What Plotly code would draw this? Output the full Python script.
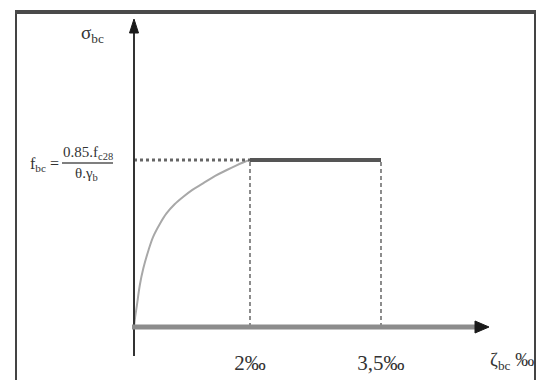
import plotly.graph_objects as go

# ---- data (schematic BAEL parabola-rectangle diagram) ----
curve_strain = [0.0, 0.02, 0.05, 0.10, 0.16, 0.25, 0.33, 0.45, 0.56, 0.70, 0.85,
                1.00, 1.19, 1.40, 1.60, 1.75, 1.88, 2.0]   # ‰
curve_stress = [0.0, 0.06, 0.13, 0.25, 0.35, 0.46, 0.54, 0.62, 0.68, 0.735, 0.78,
                0.82, 0.86, 0.905, 0.94, 0.965, 0.985, 1.0]   # σ/fbc
plateau_strain = [2.0, 3.5]
plateau_stress = [1.0, 1.0]
fbc_level = 1.0
strain_ticks = [2.0, 3.5]
strain_tick_labels = ["2‰", "3,5‰"]

W, H = 544, 380
def px(x):
    return x / W
def py(y):
    return 1 - y / H

FONT = "Liberation Serif"
TXT = "#333333"

fig = go.Figure()

fig.add_trace(go.Scatter(x=curve_strain, y=curve_stress, mode="lines", line_shape="spline",
                         line=dict(color="#a8a8a8", width=2), xaxis="x", yaxis="y",
                         hoverinfo="skip", showlegend=False))
fig.add_trace(go.Scatter(x=[0, strain_ticks[0]], y=[fbc_level, fbc_level], mode="lines",
                         line=dict(color="#666666", width=3, dash="3px,3px"), xaxis="x", yaxis="y",
                         hoverinfo="skip", showlegend=False))
for s in strain_ticks:
    fig.add_trace(go.Scatter(x=[s, s], y=[0, fbc_level], mode="lines",
                             line=dict(color="#666666", width=1.5, dash="4px,3px"), xaxis="x2", yaxis="y",
                             hoverinfo="skip", showlegend=False))
fig.add_trace(go.Scatter(x=plateau_strain, y=plateau_stress, mode="lines",
                         line=dict(color="#555555", width=4), xaxis="x2", yaxis="y",
                         hoverinfo="skip", showlegend=False))

# origin at pixel (134, 327); 2‰ at 250; 3.5‰ at 381; fbc at 160
u1 = (250 - 134) / 2.0
u2 = (381 - 250) / 1.5
uy = (327 - 160) / 1.0
x1_range = [-0.1, 2.0]
x2_range = [1.9, 3.6]
y_range = [-0.1, 1.1]

fig.update_layout(
    template="none",
    width=W, height=H, autosize=False,
    margin=dict(l=0, r=0, t=0, b=0, pad=0),
    paper_bgcolor="white", plot_bgcolor="rgba(0,0,0,0)",
    showlegend=False,
    xaxis=dict(domain=[px(134 + x1_range[0] * u1), px(250)], range=x1_range, automargin=False,
               showgrid=False, zeroline=False, showline=False, showticklabels=False,
               ticks="", anchor="y", fixedrange=True),
    xaxis2=dict(domain=[px(250 - (2.0 - x2_range[0]) * u2), px(381 + (x2_range[1] - 3.5) * u2)],
                range=x2_range, anchor="y", automargin=False,
                showgrid=False, zeroline=False, showline=False,
                tickvals=strain_ticks, ticktext=strain_tick_labels, ticks="",
                ticklabelstandoff=4,
                tickfont=dict(family=FONT, size=21, color=TXT), fixedrange=True),
    yaxis=dict(domain=[py(327 - y_range[0] * uy), py(160 - (y_range[1] - 1) * uy)], range=y_range,
               automargin=False,
               showgrid=False, zeroline=False, showline=False, showticklabels=False,
               ticks="", anchor="x", fixedrange=True),
)

def tri(p1, p2, p3):
    return "M {} {} L {} {} L {} {} Z".format(px(p1[0]), py(p1[1]), px(p2[0]), py(p2[1]), px(p3[0]), py(p3[1]))

shapes = []
# frame
shapes.append(dict(type="line", xref="paper", yref="paper", x0=px(16), x1=px(16), y0=py(11), y1=py(382),
                   line=dict(color="#444444", width=2)))
shapes.append(dict(type="line", xref="paper", yref="paper", x0=px(535), x1=px(535), y0=py(11), y1=py(382),
                   line=dict(color="#444444", width=2)))
shapes.append(dict(type="line", xref="paper", yref="paper", x0=px(15), x1=px(536), y0=py(12), y1=py(12),
                   line=dict(color="#4a4a4a", width=4)))
# y axis + arrowhead
shapes.append(dict(type="line", xref="paper", yref="paper", x0=px(134), x1=px(134), y0=py(356), y1=py(28),
                   line=dict(color="#333333", width=2)))
shapes.append(dict(type="path", xref="paper", yref="paper", path=tri((134, 19), (129.5, 33), (138.5, 33)),
                   fillcolor="#1a1a1a", line=dict(color="#1a1a1a", width=1)))
# x axis + arrowhead
shapes.append(dict(type="line", xref="paper", yref="paper", x0=px(132), x1=px(480), y0=py(327), y1=py(327),
                   line=dict(color="#8c8c8c", width=5)))
shapes.append(dict(type="path", xref="paper", yref="paper", path=tri((489, 327), (475, 321), (475, 333)),
                   fillcolor="#1a1a1a", line=dict(color="#1a1a1a", width=1)))
# fraction bar
shapes.append(dict(type="line", xref="paper", yref="paper", x0=px(62), x1=px(113), y0=py(163), y1=py(163),
                   line=dict(color="#555555", width=1.5)))
fig.update_layout(shapes=shapes)

ann = []
ann.append(dict(xref="paper", yref="paper", x=px(92), y=py(34), text="σ<sub>bc</sub>", showarrow=False,
                font=dict(family=FONT, size=19, color=TXT), xanchor="center", yanchor="middle"))
ann.append(dict(xref="paper", yref="paper", x=px(512), y=py(361), text="ζ<sub>bc</sub> ‰", showarrow=False,
                font=dict(family=FONT, size=19, color=TXT), xanchor="center", yanchor="middle"))
ann.append(dict(xref="paper", yref="paper", x=px(44), y=py(164), text="f<sub>bc</sub> =", showarrow=False,
                font=dict(family=FONT, size=16, color=TXT), xanchor="center", yanchor="middle"))
ann.append(dict(xref="paper", yref="paper", x=px(88), y=py(153), text="0.85.f<sub>c28</sub>", showarrow=False,
                font=dict(family=FONT, size=15, color=TXT), xanchor="center", yanchor="middle"))
ann.append(dict(xref="paper", yref="paper", x=px(86), y=py(174), text="θ.γ<sub>b</sub>", showarrow=False,
                font=dict(family=FONT, size=15, color=TXT), xanchor="center", yanchor="middle"))
fig.update_layout(annotations=ann)

post = ("document.body.style.margin='0';document.body.style.overflow='hidden';"
        "document.documentElement.style.overflow='hidden';")
fig.write_html("out.html", config={"displayModeBar": False, "responsive": False}, post_script=post)
